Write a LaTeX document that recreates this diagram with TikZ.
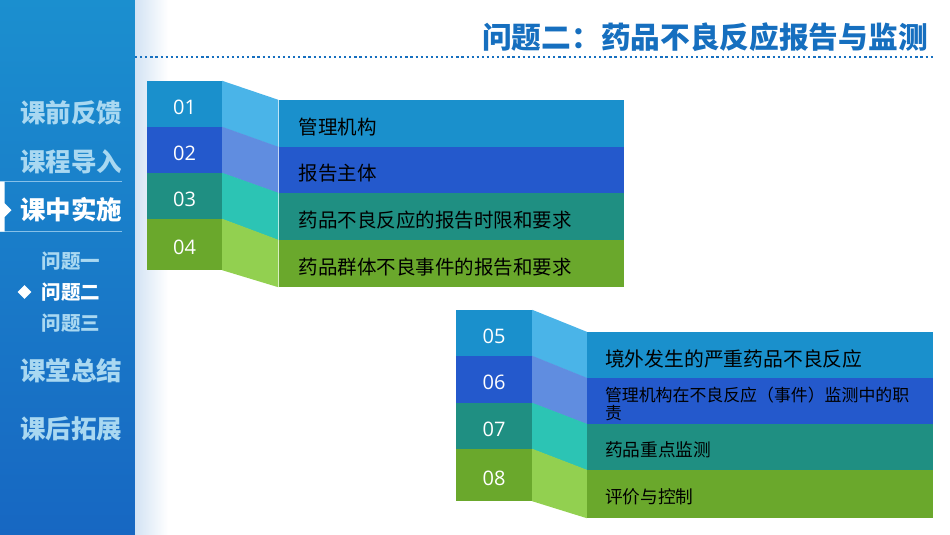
\documentclass[tikz,border=0pt]{standalone}
\usepackage{fontspec}
\usetikzlibrary{shapes.geometric}
\newfontfamily\cjk{Noto Sans CJK SC}
\newfontfamily\numfont{Open Sans}
\definecolor{sbTop}{HTML}{1B8FCF}
\definecolor{sbBot}{HTML}{1767C2}
\definecolor{sbEdge}{HTML}{D3E3F4}
\definecolor{sbText}{HTML}{A9D8F1}
\definecolor{sbLine}{HTML}{86C0E8}
\definecolor{titleBlue}{HTML}{166FBF}
\definecolor{cA}{HTML}{1A90CC}
\definecolor{cAl}{HTML}{4AB4E8}
\definecolor{cB}{HTML}{2459CC}
\definecolor{cBl}{HTML}{608DE0}
\definecolor{cC}{HTML}{1F8F82}
\definecolor{cCl}{HTML}{2CC4B4}
\definecolor{cD}{HTML}{6AA82C}
\definecolor{cDl}{HTML}{92D050}
\begin{document}
\begin{tikzpicture}[x=1pt,y=-1pt,
  numbox/.style={minimum width=75pt, inner sep=0pt, text=white,
    font=\numfont\fontsize{20}{20}\selectfont,
    execute at begin node={\rule{0pt}{1.05em}}},
  itemA/.style={minimum width=345pt, text width=305pt, inner xsep=20pt, inner ysep=0pt,
    align=left, text=black, font=\cjk\fontsize{19.5}{22}\selectfont,
    execute at begin node={\rule{0pt}{1.2em}}},
  itemB/.style={minimum width=346pt, text width=310pt, inner xsep=18pt, inner ysep=0pt,
    align=left, text=black, font=\cjk\fontsize{19.8}{22}\selectfont,
    execute at begin node={\rule{0pt}{1.2em}}},
  menu/.style={text=sbText, font=\cjk\bfseries\fontsize{25.5}{26}\selectfont, inner sep=0pt},
  submenu/.style={text=sbText, font=\cjk\bfseries\fontsize{19.5}{20}\selectfont, inner sep=0pt},
  selline/.style={draw=sbLine, line width=0.8pt}
]
\useasboundingbox (0,0) rectangle (950,535);
\fill[white] (0,0) rectangle (950,535);
% sidebar
\shade[top color=sbTop, bottom color=sbBot] (0,0) rectangle (135,535);
\shade[left color=sbEdge, right color=white] (135,0) rectangle (168,535);
% title
\node[text=titleBlue, font=\cjk\bfseries\fontsize{29.7}{30}\selectfont, inner sep=0pt] (title) at (705,37) {问题二：药品不良反应报告与监测};
\coordinate (dl) at (135,57);
\coordinate (dr) at (933,57);
\draw[titleBlue, line width=2.2pt, dash pattern=on 2.2pt off 2.9pt] (dl) -- (dr);
% menu
\draw[selline] (0,181.5) -- (122,181.5);
\draw[selline] (0,231.5) -- (122,231.5);
\fill[white] (0,181.5) -- (4.5,181.5) -- (4.5,203) -- (11.5,210) -- (4.5,217) -- (4.5,231.5) -- (0,231.5) -- cycle;
\node[menu] (m1) at (71,113) {课前反馈};
\node[menu] (m2) at (71,162) {课程导入};
\node[menu, text=white] (m3) at (71,210) {课中实施};
\node[submenu] (s1) at (71,261.5) {问题一};
\node[submenu, text=white] (s2) at (71,292) {问题二};
\node[submenu] (s3) at (71,323) {问题三};
\node[shape=diamond, fill=white, minimum size=14pt, inner sep=0pt] (dia) at (24.5,292) {};
\node[menu] (m4) at (71,371) {课堂总结};
\node[menu] (m5) at (71,429) {课后拓展};
% block 1
\node[numbox, fill=cA, minimum height=46pt] (L1) at (184.5,104) {01};
\node[numbox, fill=cB, minimum height=46pt] (L2) at (184.5,150) {02};
\node[numbox, fill=cC, minimum height=46pt] (L3) at (184.5,196) {03};
\node[numbox, fill=cD, minimum height=51pt] (L4) at (184.5,244.5) {04};
\node[itemA, fill=cA, minimum height=47pt] (R1) at (451,123.5) {管理机构};
\node[itemA, fill=cB, minimum height=46pt] (R2) at (451,170) {报告主体};
\node[itemA, fill=cC, minimum height=47pt] (R3) at (451,216.5) {药品不良反应的报告时限和要求};
\node[itemA, fill=cD, minimum height=47pt] (R4) at (451,263.5) {药品群体不良事件的报告和要求};
\fill[cAl] (L1.north east) -- (R1.north west) -- (R1.south west) -- (L1.south east) -- cycle;
\fill[cBl] (L2.north east) -- (R2.north west) -- (R2.south west) -- (L2.south east) -- cycle;
\fill[cCl] (L3.north east) -- (R3.north west) -- (R3.south west) -- (L3.south east) -- cycle;
\fill[cDl] (L4.north east) -- (R4.north west) -- (R4.south west) -- (L4.south east) -- cycle;
% block 2
\node[numbox, fill=cA, minimum height=46pt, minimum width=76pt] (L5) at (494,333) {05};
\node[numbox, fill=cB, minimum height=47pt, minimum width=76pt] (L6) at (494,379.5) {06};
\node[numbox, fill=cC, minimum height=46pt, minimum width=76pt] (L7) at (494,426) {07};
\node[numbox, fill=cD, minimum height=52pt, minimum width=76pt] (L8) at (494,475) {08};
\node[itemB, fill=cA, minimum height=46pt] (R5) at (760,355) {境外发生的严重药品不良反应};
\node[itemB, fill=cB, minimum height=46pt, font=\cjk\fontsize{16.9}{17.5}\selectfont,
  execute at begin node={\rule{0pt}{1.05em}}] (R6) at (760,401) {管理机构在不良反应（事件）监测中的职\\责};
\node[itemB, fill=cC, minimum height=46pt, font=\cjk\fontsize{17.7}{20}\selectfont] (R7) at (760,447) {药品重点监测};
\node[itemB, fill=cD, minimum height=48pt, font=\cjk\fontsize{17.7}{20}\selectfont] (R8) at (760,494) {评价与控制};
\fill[cAl] (L5.north east) -- (R5.north west) -- (R5.south west) -- (L5.south east) -- cycle;
\fill[cBl] (L6.north east) -- (R6.north west) -- (R6.south west) -- (L6.south east) -- cycle;
\fill[cCl] (L7.north east) -- (R7.north west) -- (R7.south west) -- (L7.south east) -- cycle;
\fill[cDl] (L8.north east) -- (R8.north west) -- (R8.south west) -- (L8.south east) -- cycle;
\end{tikzpicture}
\end{document}
